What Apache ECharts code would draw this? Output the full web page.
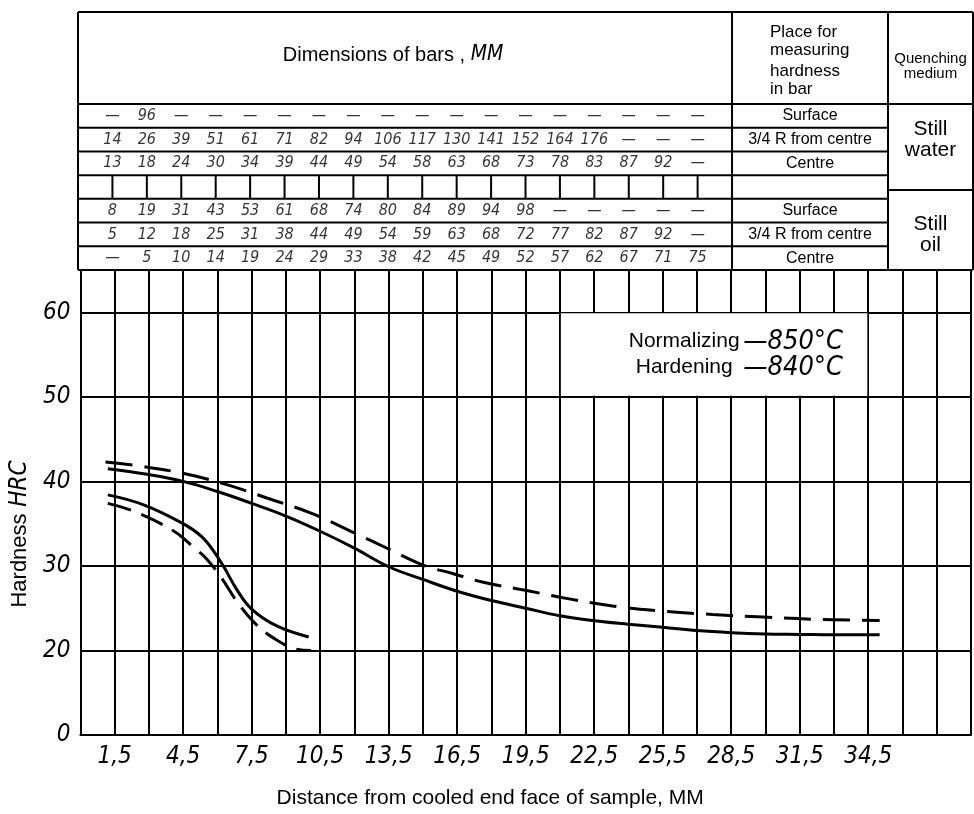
<!DOCTYPE html>
<html>
<head>
<meta charset="utf-8">
<script src="https://cdn.jsdelivr.net/npm/echarts@6/dist/echarts.min.js"></script>
<style>html,body{margin:0;padding:0;background:#fff}#c{width:974px;height:814px}</style>
</head>
<body>
<div id="c"></div>
<script>
// ---------- data ----------
const distances = [1.5,3,4.5,6,7.5,9,10.5,12,13.5,15,16.5,18,19.5,21,22.5,24,25.5,27];
const rowIds = ['wSurface','wQuarter','wCentre','gap','oSurface','oQuarter','oCentre'];
const rowPlaces = ['Surface','3/4 R from centre','Centre','','Surface','3/4 R from centre','Centre'];
const waterSurface = ['—','96','—','—','—','—','—','—','—','—','—','—','—','—','—','—','—','—'];
const waterQuarter = ['14','26','39','51','61','71','82','94','106','117','130','141','152','164','176','—','—','—'];
const waterCentre  = ['13','18','24','30','34','39','44','49','54','58','63','68','73','78','83','87','92','—'];
const gapRow       = [];
const oilSurface   = ['8','19','31','43','53','61','68','74','80','84','89','94','98','—','—','—','—','—'];
const oilQuarter   = ['5','12','18','25','31','38','44','49','54','59','63','68','72','77','82','87','92','—'];
const oilCentre    = ['—','5','10','14','19','24','29','33','38','42','45','49','52','57','62','67','71','75'];
const mediums = [['Still','water'],['Still','oil']];

const xTickValues = [1.5,4.5,7.5,10.5,13.5,16.5,19.5,22.5,25.5,28.5,31.5,34.5];
const xTickLabels = ['1,5','4,5','7,5','10,5','13,5','16,5','19,5','22,5','25,5','28,5','31,5','34,5'];
const yTickValues = [10,20,30,40,50,60];
const yTickLabels = ['0','20','30','40','50','60'];

// hardness curves [distance mm, HRC]
const waterSolid = [[1.2,41.5],[3,40.8],[4.5,40.0],[6,38.8],[7.5,37.4],[9,35.9],[10.5,34.1],[12,32.1],[13.5,29.9],[15,28.4],[16.5,27.0],[18,25.9],[19.5,25.0],[21,24.1],[22.5,23.5],[24,23.1],[25.5,22.75],[27,22.35],[28.5,22.1],[30,21.95],[31.5,21.9],[33,21.85],[35,21.85]];
const waterDashed = [[1.1,42.3],[2.4,41.9],[4.4,41.0],[6.3,39.7],[8.2,38.0],[10.1,36.25],[12,33.9],[13.5,32.0],[15,30.1],[16.3,29.1],[17.6,28.1],[19.7,27.0],[21.4,26.1],[23.3,25.25],[25.5,24.65],[27.7,24.25],[29.9,23.95],[32,23.7],[35,23.55]];
const oilSolid = [[1.2,38.4],[2.8,37.2],[4.5,35.0],[5.3,33.5],[5.85,31.7],[6.3,29.8],[6.85,27.2],[7.5,24.9],[8.6,22.9],[10.0,21.6]];
const oilDashed = [[1.2,37.4],[2.35,36.45],[4.1,34.1],[5.0,32.1],[5.5,30.9],[6.2,28.5],[6.85,25.8],[7.65,23.2],[8.5,21.4],[9.4,20.2],[10.1,20.0]];

const noteLines = [['Normalizing','—850°C'],['Hardening','—840°C']];
const noteBox = [[21.04,59.88],[34.46,50.12]];

// ---------- styles / layout ----------
const NUM_FONT = "'Liberation Sans Narrow','DejaVu Sans Condensed','Liberation Sans',sans-serif";
const TXT_FONT = "'Liberation Sans',Arial,sans-serif";
const LEFT = 78, RIGHT = 973, PLOT_TOP = 270, PLOT_BOTTOM = 736, TABLE_TOP = 12, HEADER_BOTTOM = 104, PLACE_RIGHT = 888;

const tableRows = [waterSurface, waterQuarter, waterCentre, gapRow, oilSurface, oilQuarter, oilCentre];
const tableData = [];
tableRows.forEach((vals, r) => vals.forEach((t, i) => tableData.push([distances[i], rowIds[r], t])));

function lookup(vals, labels, v) {
  for (let i = 0; i < vals.length; i++) if (Math.abs(vals[i] - v) < 1e-6) return labels[i];
  return '';
}

const curveBase = {type:'line', xAxisIndex:0, yAxisIndex:0, smooth:0.4, symbol:'none', silent:true};

const chart = echarts.init(document.getElementById('c'), null, {renderer:'canvas'});
chart.setOption({
  animation:false,
  backgroundColor:'#fff',
  grid:[
    {left:LEFT, top:PLOT_TOP, width:RIGHT-LEFT, height:PLOT_BOTTOM-PLOT_TOP},
    {left:LEFT, top:HEADER_BOTTOM, width:RIGHT-LEFT, height:PLOT_TOP-HEADER_BOTTOM}
  ],
  xAxis:[
    {type:'value', gridIndex:0, min:0, max:39, interval:1.5,
     axisLine:{show:true, onZero:false, lineStyle:{color:'#000', width:2}},
     axisTick:{show:false},
     splitLine:{show:true, lineStyle:{color:'#000', width:2}},
     axisLabel:{formatter:v => lookup(xTickValues, xTickLabels, v), color:'#000', fontSize:24, fontStyle:'italic', fontFamily:NUM_FONT, margin:10},
     name:'Distance from cooled end face of sample, MM', nameLocation:'middle', nameGap:53,
     nameTextStyle:{color:'#000', fontSize:21, fontFamily:TXT_FONT, padding:[0,71,0,0]}},
    {type:'value', gridIndex:1, min:0, max:39, show:false}
  ],
  yAxis:[
    {type:'value', gridIndex:0, min:10, max:65, interval:10,
     axisLine:{show:true, onZero:false, lineStyle:{color:'#000', width:2}},
     axisTick:{show:false},
     splitLine:{show:true, lineStyle:{color:'#000', width:2}},
     axisLabel:{formatter:v => lookup(yTickValues, yTickLabels, v), color:'#000', fontSize:24, fontStyle:'italic', fontFamily:NUM_FONT, margin:10},
     name:'{a|Hardness}  {b|HRC}', nameLocation:'middle', nameRotate:90, nameGap:45,
     nameTextStyle:{padding:[0,63,0,0], rich:{
       a:{fontSize:22, fontFamily:TXT_FONT, color:'#000'},
       b:{fontSize:24, fontStyle:'italic', fontFamily:NUM_FONT, color:'#000'}}}},
    {type:'category', gridIndex:1, data:rowIds, inverse:true, show:false}
  ],
  series:[
    Object.assign({}, curveBase, {name:'water solid', data:waterSolid, lineStyle:{color:'#000', width:3},
      markArea:{silent:true, itemStyle:{color:'#fff', opacity:1},
        label:{show:true, position:'inside', offset:[20,0],
          formatter: noteLines.map(l => '{a|' + l[0] + '}{b|' + l[1] + '}').join('\n'),
          rich:{a:{fontSize:21, fontFamily:TXT_FONT, color:'#000', width:118, lineHeight:26},
                b:{fontSize:27, fontStyle:'italic', fontFamily:NUM_FONT, color:'#000', lineHeight:26}}},
        data:[[{coord:noteBox[0]},{coord:noteBox[1]}]]}}),
    Object.assign({}, curveBase, {name:'water dashed', data:waterDashed, lineStyle:{color:'#000', width:3, type:[27,12]}}),
    Object.assign({}, curveBase, {name:'oil solid', data:oilSolid, lineStyle:{color:'#000', width:3}}),
    Object.assign({}, curveBase, {name:'oil dashed', data:oilDashed, lineStyle:{color:'#000', width:3, type:[24,11]}}),
    {type:'scatter', name:'bar sizes', xAxisIndex:1, yAxisIndex:1, symbolSize:1, silent:true,
     itemStyle:{color:'rgba(0,0,0,0)'}, data:tableData,
     label:{show:true, position:'inside', formatter:p => p.value[2], color:'#000', fontSize:16, fontStyle:'italic', fontFamily:NUM_FONT}}
  ]
});

// ---------- table frame & texts ----------
const px = v => chart.convertToPixel({xAxisIndex:1}, v);
const rowC = i => chart.convertToPixel({yAxisIndex:1}, i);
const rh = rowC(1) - rowC(0);
const rowTop = i => rowC(i) - rh / 2;
const placeLeft = px(28.5);
const ln = (x1,y1,x2,y2) => ({type:'line', silent:true, shape:{x1,y1,x2,y2}, style:{stroke:'#000', lineWidth:2}});
const tx = (x,y,t,size,extra) => ({type:'text', silent:true, x, y, style:Object.assign({text:t, fontSize:size, fontFamily:TXT_FONT, fill:'#000', align:'center', verticalAlign:'middle'}, extra||{})});
const g = [];
g.push(ln(LEFT, TABLE_TOP, RIGHT, TABLE_TOP));
g.push(ln(LEFT, HEADER_BOTTOM, RIGHT, HEADER_BOTTOM));
g.push(ln(LEFT, PLOT_TOP, RIGHT, PLOT_TOP));
g.push(ln(LEFT, TABLE_TOP, LEFT, PLOT_TOP));
g.push(ln(RIGHT, TABLE_TOP, RIGHT, PLOT_TOP));
g.push(ln(placeLeft, TABLE_TOP, placeLeft, PLOT_TOP));
g.push(ln(PLACE_RIGHT, TABLE_TOP, PLACE_RIGHT, PLOT_TOP));
for (let k = 1; k < rowIds.length; k++) g.push(ln(LEFT, rowTop(k), PLACE_RIGHT, rowTop(k)));
const gapIdx = rowIds.indexOf('gap');
g.push(ln(PLACE_RIGHT, rowC(gapIdx) + 3, RIGHT, rowC(gapIdx) + 3));
[0].concat(distances).forEach(d => g.push(ln(px(d), rowTop(gapIdx), px(d), rowTop(gapIdx) + rh)));
// header texts
g.push(tx((LEFT + placeLeft) / 2 - 12, 55, '{a|Dimensions of bars ,} {b|MM}', 20, {rich:{
  a:{fontSize:20, fontFamily:TXT_FONT, fill:'#000'},
  b:{fontSize:21, fontStyle:'italic', fontFamily:NUM_FONT, fill:'#000'}}}));
[['Place for',32],['measuring',50],['hardness',71],['in bar',89]].forEach(p => g.push(tx(770, p[1], p[0], 17, {align:'left'})));
g.push(tx((PLACE_RIGHT + RIGHT) / 2, 59, 'Quenching', 15));
g.push(tx((PLACE_RIGHT + RIGHT) / 2, 74, 'medium', 15));
rowPlaces.forEach((t, i) => { if (t) g.push(tx((placeLeft + PLACE_RIGHT) / 2, rowC(i), t, 16)); });
g.push(tx((PLACE_RIGHT + RIGHT) / 2, rowC(1) - 10, mediums[0][0], 21));
g.push(tx((PLACE_RIGHT + RIGHT) / 2, rowC(1) + 11, mediums[0][1], 21));
g.push(tx((PLACE_RIGHT + RIGHT) / 2, rowC(5) - 10, mediums[1][0], 21));
g.push(tx((PLACE_RIGHT + RIGHT) / 2, rowC(5) + 11, mediums[1][1], 21));
chart.setOption({graphic:g});
</script>
</body>
</html>
